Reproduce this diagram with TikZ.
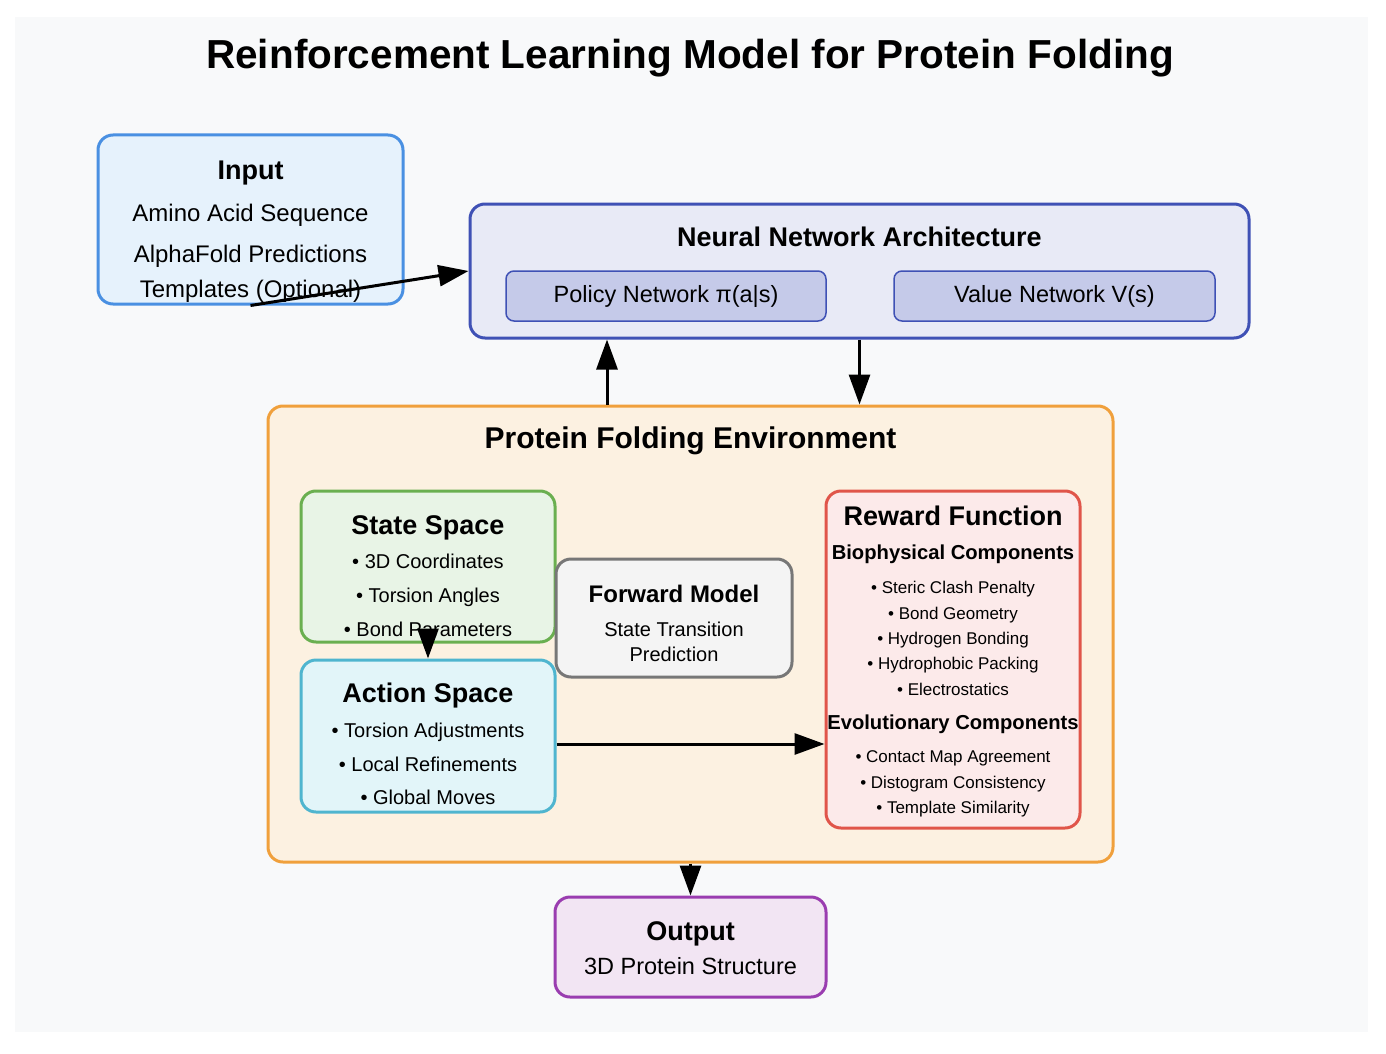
\documentclass[tikz,border=0pt]{standalone}
\usepackage{fontspec}
\setmainfont{Liberation Sans}
\usetikzlibrary{arrows.meta}

\definecolor{canvascol}{HTML}{F8F9FA}
\definecolor{inline}{HTML}{4A90E2}   \definecolor{infill}{HTML}{E6F2FC}
\definecolor{nnline}{HTML}{3F51B5}   \definecolor{nnfill}{HTML}{E8EAF6}
\definecolor{nnsub}{HTML}{C5CAE9}
\definecolor{envline}{HTML}{F0A03C}  \definecolor{envfill}{HTML}{FCF1E1}
\definecolor{stline}{HTML}{6AAF50}   \definecolor{stfill}{HTML}{E8F4E6}
\definecolor{acline}{HTML}{4FB5CF}   \definecolor{acfill}{HTML}{E2F5F9}
\definecolor{fwline}{HTML}{777777}   \definecolor{fwfill}{HTML}{F4F4F4}
\definecolor{rwline}{HTML}{E0554A}   \definecolor{rwfill}{HTML}{FCEAEA}
\definecolor{outline}{HTML}{9A3DB0}  \definecolor{outfill}{HTML}{F2E5F3}

\tikzset{
  box/.style={draw, line width=3pt, rounded corners=15pt, inner sep=0pt},
  subbox/.style={draw=nnline, fill=nnsub, line width=1.5pt, rounded corners=8pt, inner sep=0pt,
    minimum height=50pt, font=\fontsize{23.5}{28}\selectfont},
  txt/.style={anchor=base, inner sep=0pt, font=\fontsize{#1}{#1}\selectfont},
  hd/.style={anchor=base, inner sep=0pt, font=\fontsize{#1}{#1}\selectfont\bfseries},
  arr/.style={-{Triangle[length=30pt,width=21pt]}, line width=3pt}
}

\begin{document}
\begin{tikzpicture}[x=1pt, y=-1pt]

  \useasboundingbox (0,0) rectangle (1386,1054);
  \node[fill=canvascol, inner sep=0pt, minimum width=1353pt, minimum height=1015pt] (canvas) at (691.5,524.5) {};

  % boxes
  \node[box, draw=envline, fill=envfill, minimum width=845pt, minimum height=456pt] (env) at (690.5,634) {};
  \node[box, draw=nnline, fill=nnfill, minimum width=779pt, minimum height=134pt] (nn) at (859.5,271) {};
  \node[box, draw=inline, fill=infill, minimum width=305pt, minimum height=169pt] (input) at (250.5,219.5) {};
  \node[subbox, minimum width=320pt] (policy) at (666,296) {Policy Network π(a|s)};
  \node[subbox, minimum width=321pt] (value) at (1054.5,296) {Value Network V(s)};
  \node[box, draw=stline, fill=stfill, minimum width=254pt, minimum height=151pt] (state) at (428,566.5) {};
  \node[box, draw=acline, fill=acfill, minimum width=254pt, minimum height=152pt] (action) at (428,736) {};
  \node[box, draw=fwline, fill=fwfill, minimum width=236pt, minimum height=118pt] (fwd) at (674,618) {};
  \node[box, draw=rwline, fill=rwfill, minimum width=254pt, minimum height=337pt] (reward) at (953,659.5) {};
  \node[box, draw=outline, fill=outfill, minimum width=271pt, minimum height=100pt] (output) at (690.5,947) {};

  % texts
  \node[hd=40.5] (title) at (690,69) {Reinforcement Learning Model for Protein Folding};

  \node[hd=27] (inT) at (250.5,179.5) {Input};
  \node[txt=24] (in1) at (250.5,221.5) {Amino Acid Sequence};
  \node[txt=24] (in2) at (250.5,262.5) {AlphaFold Predictions};
  \node[txt=24] (in3) at (250.5,297.5) {Templates (Optional)};

  \node[hd=27] (nnT) at (859.5,246.5) {Neural Network Architecture};
  \node[hd=30] (envT) at (690.5,448.5) {Protein Folding Environment};

  \node[hd=27] (stT) at (428,534.5) {State Space};
  \node[txt=20] (st1) at (428,568) {• 3D Coordinates};
  \node[txt=20] (st2) at (428,602) {• Torsion Angles};
  \node[txt=20] (st3) at (428,636) {• Bond Parameters};

  \node[hd=27] (acT) at (428,702.5) {Action Space};
  \node[txt=20] (ac1) at (428,737) {• Torsion Adjustments};
  \node[txt=20] (ac2) at (428,771) {• Local Refinements};
  \node[txt=20] (ac3) at (428,804) {• Global Moves};

  \node[hd=24] (fwT) at (674,602.5) {Forward Model};
  \node[txt=20] (fw1) at (674,636) {State Transition};
  \node[txt=20] (fw2) at (674,661) {Prediction};

  \node[hd=27] (rwT) at (953,525.5) {Reward Function};
  \node[hd=20.2] (rwB) at (953,559) {Biophysical Components};
  \foreach \y/\t in {593/Steric Clash Penalty, 619/Bond Geometry, 644/Hydrogen Bonding,
                     669/Hydrophobic Packing, 695/Electrostatics}
    \node[txt=17] at (953,\y) {• \t};
  \node[hd=20.2] (rwE) at (953,729) {Evolutionary Components};
  \foreach \y/\t in {762/Contact Map Agreement, 788/Distogram Consistency, 813/Template Similarity}
    \node[txt=17] at (953,\y) {• \t};

  \node[hd=27] (outT) at (690.5,940.5) {Output};
  \node[txt=23.5] (out1) at (690.5,974.5) {3D Protein Structure};

  % arrows
  \draw[arr] (input.south) -- (nn.west);                     % input -> network
  \draw[arr] (env.north -| 607,0) -- (nn.south -| 607,0);    % env -> network (up)
  \draw[arr] (nn.south) -- (nn.south |- env.north);          % network -> env (down)
  \draw[arr] (state.south) -- (action.north);                % state -> action
  \draw[arr] (action.east |- 0,744) -- (reward.west |- 0,744); % action -> reward
  \draw[arr] (env.south) -- (output.north);                  % env -> output

\end{tikzpicture}
\end{document}
